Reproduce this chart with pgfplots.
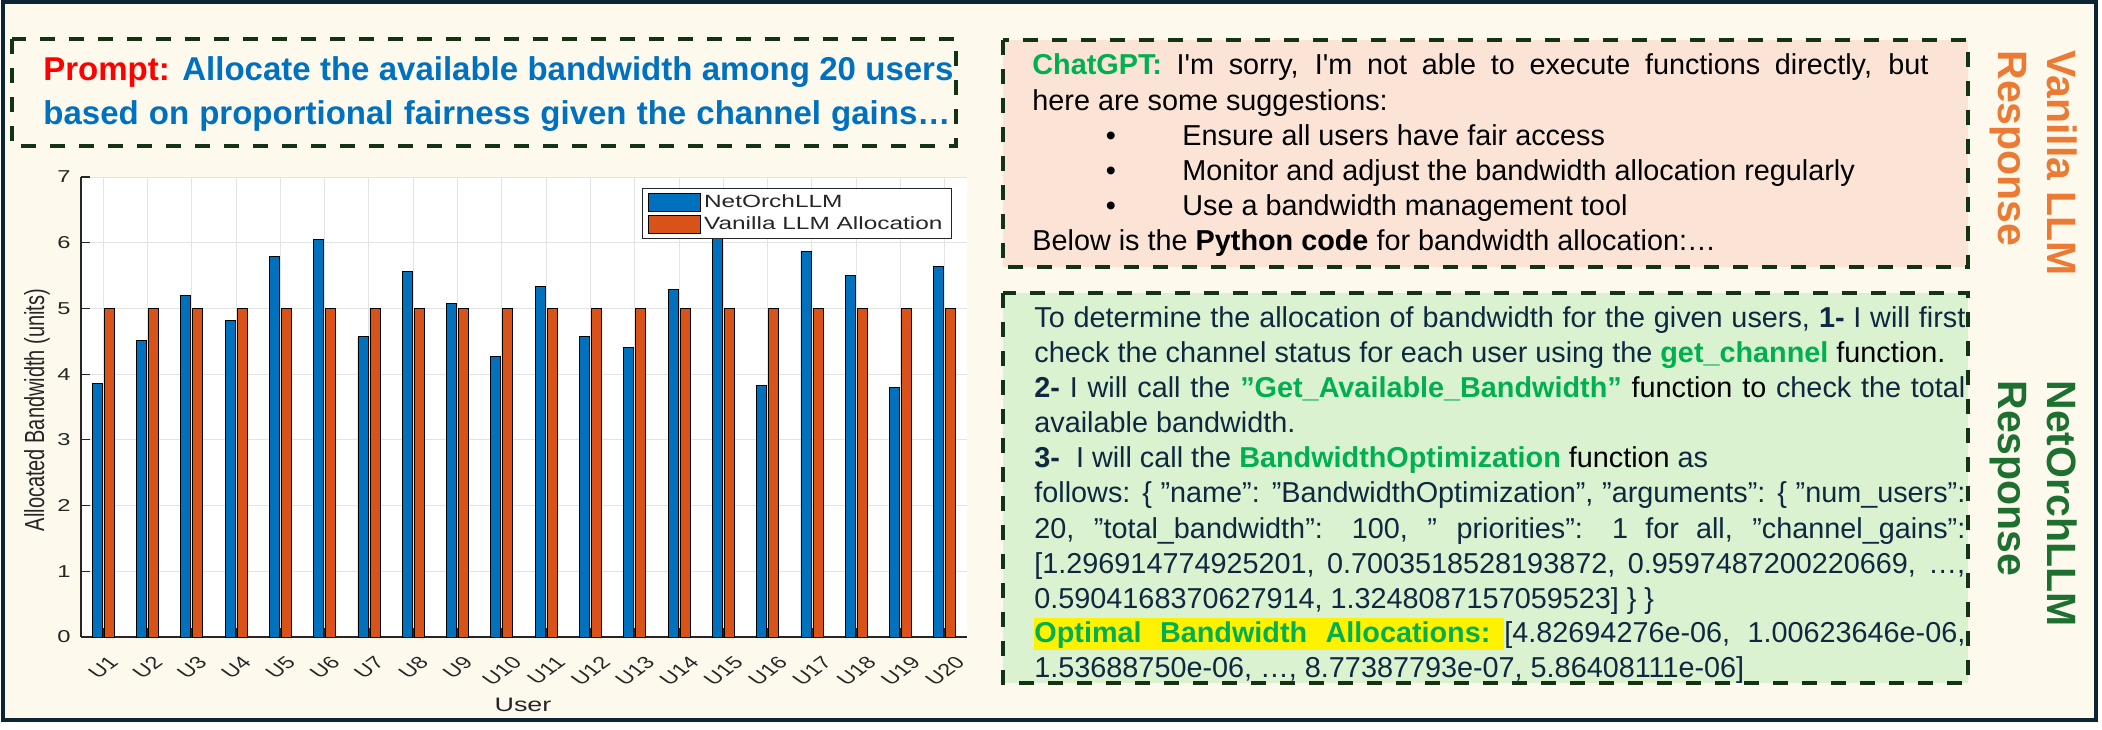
\documentclass[border=0pt]{standalone}
\usepackage{fontspec}
\usepackage{graphicx}
\usepackage{xcolor}
\usepackage{pgfplots}
\pgfplotsset{compat=1.18}

\newfontfamily\tf{Liberation Sans}
\newfontfamily\cf[FakeStretch=1.38]{Liberation Sans}

\definecolor{frame}{HTML}{0B2535}
\definecolor{paper}{HTML}{FDFAED}
\definecolor{dashgreen}{HTML}{143214}
\definecolor{boxpink}{HTML}{FBE3D6}
\definecolor{boxmint}{HTML}{DAF2D0}
\definecolor{pblue}{HTML}{0070C0}
\definecolor{pred}{HTML}{FF0000}
\definecolor{gpt}{HTML}{00B050}
\definecolor{lorange}{HTML}{EB7A35}
\definecolor{dkgreen}{HTML}{1E7031}
\definecolor{navytxt}{HTML}{0E2841}
\definecolor{mblue}{HTML}{0072BD}
\definecolor{morange}{HTML}{D95319}
\definecolor{axgray}{HTML}{262626}

% chart was stretched sideways in the source, so labels are widened by 1.38
\newcommand\xl[1]{\scalebox{1.38}[1]{\rotatebox{45}{\tf\fontsize{8.6pt}{10pt}\selectfont #1}}}
\setlength{\fboxsep}{0pt}

\begin{document}
\begin{tikzpicture}
\useasboundingbox (0,0) rectangle (1051pt,-364.5pt);
\fill[white] (0,0) rectangle (1051pt,-364.5pt);

% everything below in image pixels, y downwards
\begin{scope}[x=0.5pt,y=-0.5pt,
  tl/.style={anchor=base west, inner sep=0pt},
  dbox/.style={draw=dashgreen, line width=2pt, dash pattern=on 7.5pt off 7pt}]
\draw[frame, line width=2pt, fill=paper] (3,2) rectangle (2096,720);

% prompt
\draw[dbox] (12,39) rectangle (956,146);
\begin{scope}[every node/.style={tl, font=\tf\fontsize{16.5pt}{20pt}\selectfont\bfseries, text=pblue}]
\node at (43,80.7) {\makebox[455pt][s]{\textcolor{pred}{Prompt:} Allocate the available bandwidth among 20 users}};
\node at (43,124.3) {\makebox[453.5pt][s]{based on proportional fairness given the channel gains…}};
\end{scope}

% vanilla answer
\fill[boxpink] (1003,40) rectangle (1968,267);
\draw[dbox] (1003,40) rectangle (1968,267);
\begin{scope}[every node/.style={tl, font=\tf\fontsize{14.4pt}{17pt}\selectfont, text=black}]
\node at (1032,74) {\makebox[448pt][s]{\textcolor{gpt}{\bfseries ChatGPT:} I'm sorry, I'm not able to execute functions directly, but}};
\node at (1032,110) {here are some suggestions:};
\node[anchor=base] at (1111,145) {•};
\node at (1182,145) {Ensure all users have fair access};
\node[anchor=base] at (1111,180) {•};
\node at (1182,180) {Monitor and adjust the bandwidth allocation regularly};
\node[anchor=base] at (1111,215) {•};
\node at (1182,215) {Use a bandwidth management tool};
\node at (1032,250) {Below is the \textbf{Python code} for bandwidth allocation:…};
\end{scope}

% NetOrchLLM answer
\fill[boxmint] (1003,293) rectangle (1968,683);
\draw[dbox] (1003,293) rectangle (1968,683);
\begin{scope}[every node/.style={tl, font=\tf\fontsize{14.4pt}{17pt}\selectfont, text=navytxt}]
\node at (1034,327) {\makebox[465.5pt][s]{To determine the allocation of bandwidth for the given users, \textbf{1-} I will first}};
\node at (1034,362) {check the channel status for each user using the \textcolor{gpt}{\bfseries get\_channel} \textcolor{black}{function.}};
\node at (1034,397) {\makebox[465.5pt][s]{\textbf{2-} I will call the \textcolor{gpt}{\bfseries ”Get\_Available\_Bandwidth”} \textcolor{black}{function} \textcolor{black}{to} check the total}};
\node at (1034,432) {available bandwidth.};
\node at (1034,467) {\textbf{3-}\ \ I will call the \textcolor{gpt}{\bfseries BandwidthOptimization} \textcolor{black}{function} as};
\node at (1034,502) {\makebox[465.5pt][s]{follows: \{ ”name”: ”BandwidthOptimization”, ”arguments”: \{ ”num\_users”:}};
\node at (1034,538) {\makebox[465.5pt][s]{20, ”total\_bandwidth”: 100, ” priorities”: 1 for all, ”channel\_gains”:}};
\node at (1034,573) {\makebox[465.5pt][s]{[1.296914774925201, 0.7003518528193872, 0.9597487200220669, …,}};
\node at (1034,608) {0.5904168370627914, 1.3248087157059523] \} \}};
\node at (1034,642) {\makebox[465.5pt][s]{\colorbox{yellow}{\rule[-4pt]{0pt}{16pt}\makebox[228pt][s]{\bfseries\color{gpt}Optimal Bandwidth Allocations:}\hspace*{7pt}}[4.82694276e-06, 1.00623646e-06,}};
\node at (1034,677) {1.53688750e-06, …, 8.77387793e-07, 5.86408111e-06]};
\end{scope}

% side labels
\begin{scope}[every node/.style={rotate=-90, tl, font=\tf\fontsize{20.5pt}{24pt}\selectfont\bfseries}]
\node[text=lorange] at (2047,50) {Vanilla LLM};
\node[text=lorange] at (1998,50) {Response};
\node[text=dkgreen] at (2047,380) {NetOrchLLM};
\node[text=dkgreen] at (1998,380) {Response};
\end{scope}
\end{scope}

\begin{axis}[
  at={(40.5pt,-318.5pt)}, anchor=south west,
  scale only axis, width=443pt, height=230pt,
  xmin=0.5, xmax=20.5, ymin=0, ymax=7,
  axis x line*=bottom, axis y line*=left,
  axis line style={-, draw=axgray, line width=0.8pt},
  axis background/.style={fill=white},
  xtick={1,...,20}, ytick={0,...,7},
  xticklabels={\xl{U1},\xl{U2},\xl{U3},\xl{U4},\xl{U5},\xl{U6},\xl{U7},\xl{U8},\xl{U9},\xl{U10},
    \xl{U11},\xl{U12},\xl{U13},\xl{U14},\xl{U15},\xl{U16},\xl{U17},\xl{U18},\xl{U19},\xl{U20}},
  xticklabel style={anchor=north, inner sep=0pt, yshift=-9pt, text=axgray},
  /pgf/number format/assume math mode=true,
  yticklabel style={anchor=east, inner sep=0pt, xshift=-5pt, text=axgray,
    font=\cf\fontsize{8.6pt}{10pt}\selectfont},
  tick align=inside, major tick length=4.5pt,
  tick style={draw=axgray, line width=0.6pt},
  grid=major, major grid style={draw=black!11, line width=0.5pt},
  legend cell align=left,
  legend style={at={(1,1)}, anchor=north east, xshift=-7.5pt, yshift=-5.5pt,
    draw=axgray, line width=0.4pt, fill=white, inner xsep=3pt, inner ysep=1.5pt,
    row sep=0pt, text=axgray, font=\cf\fontsize{8.85pt}{10pt}\selectfont,
    nodes={inner sep=1.5pt}},
]
\addplot[ybar, bar width=5pt, bar shift=-3pt, fill=mblue, draw=black, line width=0.4pt,
  legend image code/.code={\draw[fill=mblue, draw=black, line width=0.4pt] (0pt,-4.5pt) rectangle (26pt,4.5pt);}]
  coordinates {(1,3.86) (2,4.51) (3,5.20) (4,4.82) (5,5.79) (6,6.05) (7,4.57) (8,5.56) (9,5.07) (10,4.27)
    (11,5.34) (12,4.58) (13,4.41) (14,5.29) (15,6.20) (16,3.83) (17,5.87) (18,5.50) (19,3.80) (20,5.64)};
\addlegendentry{NetOrchLLM}
\addplot[ybar, bar width=5pt, bar shift=3pt, fill=morange, draw=black, line width=0.4pt,
  legend image code/.code={\draw[fill=morange, draw=black, line width=0.4pt] (0pt,-4.5pt) rectangle (26pt,4.5pt);}]
  coordinates {(1,5) (2,5) (3,5) (4,5) (5,5) (6,5) (7,5) (8,5) (9,5) (10,5)
    (11,5) (12,5) (13,5) (14,5) (15,5) (16,5) (17,5) (18,5) (19,5) (20,5)};
\addlegendentry{Vanilla LLM Allocation}
\end{axis}

\begin{scope}[x=0.5pt,y=-0.5pt]
\node[inner sep=0pt, text=axgray] at (37,410)
  {\scalebox{1.38}[1]{\rotatebox{90}{\tf\fontsize{10pt}{12pt}\selectfont Allocated Bandwidth (units)}}};
\node[inner sep=0pt, text=axgray, font=\cf\fontsize{9.75pt}{12pt}\selectfont] at (523,705) {User};
\end{scope}
\end{tikzpicture}
\end{document}
